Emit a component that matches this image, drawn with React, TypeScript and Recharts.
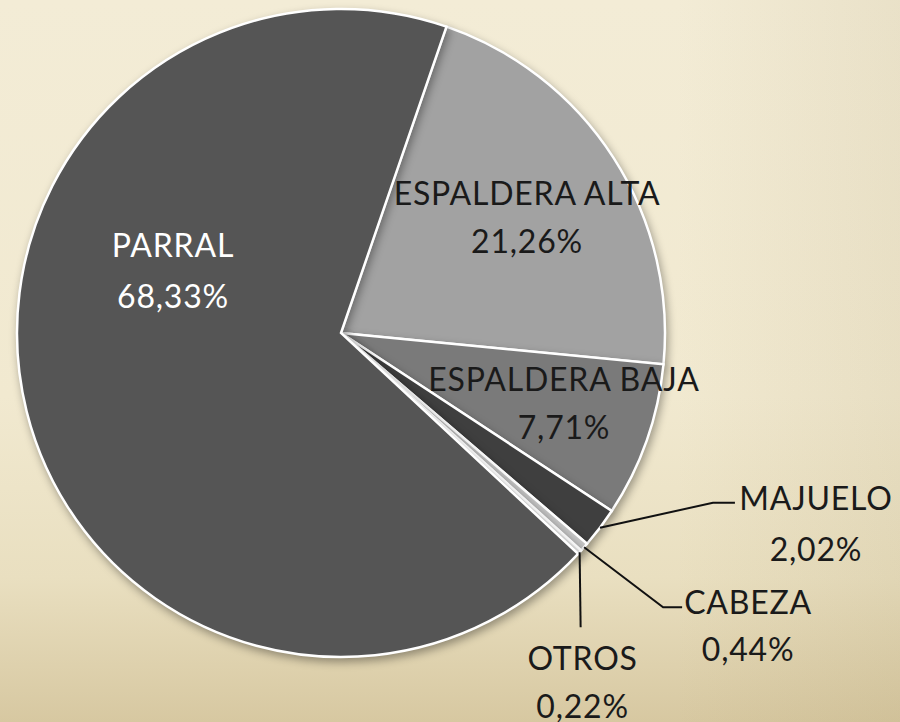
import React from 'react';
import { PieChart, Pie, Cell } from 'recharts';

const categories = ['ESPALDERA ALTA', 'ESPALDERA BAJA', 'MAJUELO', 'CABEZA', 'OTROS', 'PARRAL'];
const values = [21.26, 7.71, 2.02, 0.44, 0.22, 68.33];
const percentLabels = ['21,26%', '7,71%', '2,02%', '0,44%', '0,22%', '68,33%'];
const colors = ['#a2a2a2', '#7a7a7a', '#3f3f3f', '#c4c4c4', '#e6e6e6', '#555555'];
const textColors = ['#1a1a1a', '#1a1a1a', '#1a1a1a', '#1a1a1a', '#1a1a1a', '#ffffff'];

// label layout: mode 'center' = offsets from pie centre; mode 'outer' = offsets from slice's outer mid point with a leader line
type Layout = { mode: 'center' | 'outer'; tx: number; y1: number; y2: number; elbow?: [number, number]; end?: [number, number] };
const labelLayout: Layout[] = [
  { mode: 'center', tx: 186, y1: -141, y2: -93 },
  { mode: 'center', tx: 223, y1: 45, y2: 93 },
  { mode: 'outer', tx: 216, y1: -30, y2: 21, elbow: [113, -25], end: [135, -25] },
  { mode: 'outer', tx: 164, y1: 54, y2: 101, elbow: [79, 60], end: [98, 60] },
  { mode: 'outer', tx: 3, y1: 105, y2: 153, elbow: [1, 75], end: [1, 75] },
  { mode: 'center', tx: -168, y1: -89, y2: -38 },
];

const data = categories.map((name, i) => ({ name, value: values[i], pct: percentLabels[i] }));

const RADIAN = Math.PI / 180;
const FONT = 'Lato, "Open Sans", sans-serif';

const renderLabel = (props: any) => {
  const { cx, cy, midAngle, outerRadius, index } = props;
  const lay = labelLayout[index];
  const textProps = {
    textAnchor: 'middle' as const,
    dominantBaseline: 'central' as const,
    fontFamily: FONT,
    fontSize: 32,
    letterSpacing: 0.8,
    fill: textColors[index],
  };
  if (lay.mode === 'center') {
    return (
      <g key={`lbl-${index}`}>
        <text x={cx + lay.tx} y={cy + lay.y1} {...textProps}>{categories[index]}</text>
        <text x={cx + lay.tx} y={cy + lay.y2} {...textProps}>{percentLabels[index]}</text>
      </g>
    );
  }
  const sx = cx + outerRadius * Math.cos(-midAngle * RADIAN);
  const sy = cy + outerRadius * Math.sin(-midAngle * RADIAN);
  const e = lay.elbow!;
  const en = lay.end!;
  return (
    <g key={`lbl-${index}`}>
      <path
        d={`M${sx},${sy}L${sx + e[0]},${sy + e[1]}L${sx + en[0]},${sy + en[1]}`}
        stroke="#111"
        strokeWidth={2}
        fill="none"
      />
      <text x={sx + lay.tx} y={sy + lay.y1} {...textProps}>{categories[index]}</text>
      <text x={sx + lay.tx} y={sy + lay.y2} {...textProps}>{percentLabels[index]}</text>
    </g>
  );
};

export default function App() {
  return (
    <div
      style={{
        position: 'absolute',
        left: 0,
        top: 0,
        width: 900,
        height: 722,
        overflow: 'hidden',
        background:
          'linear-gradient(to bottom, #f3ecd6 0%, #f1e9d0 55%, #e9dfc0 80%, #d7c8a1 100%)',
      }}
    >
      <div
        style={{
          position: 'absolute',
          inset: 0,
          background: 'linear-gradient(to right, rgba(0,0,0,0) 75%, rgba(150,130,80,0.10) 100%)',
        }}
      />
      <div style={{ position: 'absolute', left: 0, top: 0 }}>
        <PieChart width={900} height={722} margin={{ top: 0, right: 0, bottom: 0, left: 0 }}>
          <Pie
            data={data}
            dataKey="value"
            nameKey="name"
            cx={341}
            cy={333}
            outerRadius={324}
            startAngle={71}
            endAngle={-289}
            stroke="#ffffff"
            strokeWidth={2.5}
            label={renderLabel}
            labelLine={false}
            isAnimationActive={false}
            style={{ filter: 'drop-shadow(2px 4px 4px rgba(0,0,0,0.35))' }}
          >
            {data.map((d, i) => (
              <Cell key={d.name} fill={colors[i]} />
            ))}
          </Pie>
        </PieChart>
      </div>
    </div>
  );
}
